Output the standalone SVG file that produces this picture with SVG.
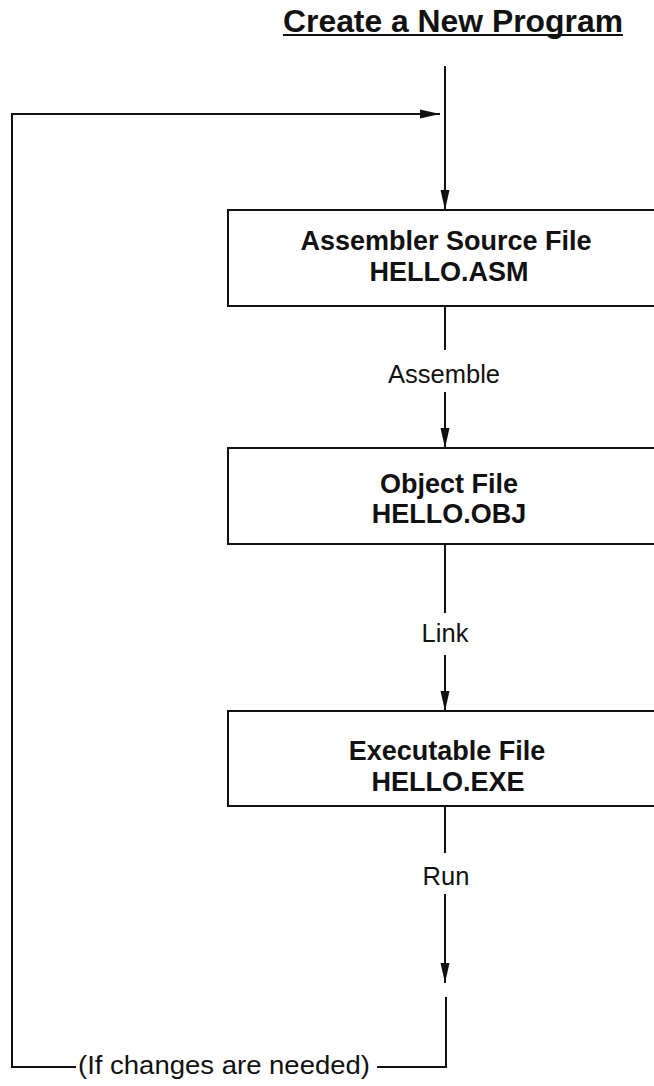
<svg xmlns="http://www.w3.org/2000/svg" width="654" height="1086" viewBox="0 0 654 1086">
  <style>
    .box { fill: #ffffff; stroke: #111111; stroke-width: 2; }
    .ln { fill: none; stroke: #111111; stroke-width: 2; }
    .title { font-family: "Liberation Sans", Arial, sans-serif; font-weight: bold; font-size: 31px; fill: #111111; }
    .node { font-family: "Liberation Sans", Arial, sans-serif; font-weight: bold; font-size: 27px; fill: #111111; text-anchor: middle; }
    .lbl { font-family: "Liberation Sans", Arial, sans-serif; font-size: 25.5px; fill: #111111; text-anchor: middle; }
  </style>
  <defs>
    <marker id="arrow" viewBox="0 0 20 10" refX="20" refY="5" markerWidth="20" markerHeight="10" markerUnits="userSpaceOnUse" orient="auto">
      <path d="M0,0.5 L20,5 L0,9.5 Z" fill="#111111"/>
    </marker>
  </defs>

  <rect width="654" height="1086" fill="#ffffff"/>

  <g id="title">
    <text class="title" x="283" y="32" textLength="340" lengthAdjust="spacingAndGlyphs">Create a New Program</text>
    <line class="ln" x1="283" y1="35" x2="623" y2="35"/>
  </g>

  <g id="connectors">
    <!-- entry into the source file -->
    <line class="ln" x1="445" y1="66" x2="445" y2="210" marker-end="url(#arrow)"/>
    <!-- assemble -->
    <line class="ln" x1="445" y1="306" x2="445" y2="350"/>
    <line class="ln" x1="445" y1="392" x2="445" y2="448" marker-end="url(#arrow)"/>
    <!-- link -->
    <line class="ln" x1="445" y1="544" x2="445" y2="613"/>
    <line class="ln" x1="445" y1="655" x2="445" y2="711" marker-end="url(#arrow)"/>
    <!-- run -->
    <line class="ln" x1="445" y1="806" x2="445" y2="853"/>
    <line class="ln" x1="445" y1="894" x2="445" y2="983" marker-end="url(#arrow)"/>
    <!-- feedback loop back to the top -->
    <polyline class="ln" points="446,997 446,1067 377,1067"/>
    <polyline class="ln" points="76,1067 12,1067 12,114 440,114" marker-end="url(#arrow)"/>
  </g>

  <g id="label-assemble">
    <text class="lbl" x="444" y="383">Assemble</text>
  </g>
  <g id="label-link">
    <text class="lbl" x="445" y="642">Link</text>
  </g>
  <g id="label-run">
    <text class="lbl" x="446" y="885">Run</text>
  </g>
  <g id="label-loop">
    <text class="lbl" x="224" y="1074" textLength="292" lengthAdjust="spacingAndGlyphs">(If changes are needed)</text>
  </g>

  <g id="node-source">
    <rect class="box" x="228" y="210" width="440" height="96"/>
    <text class="node" x="446" y="250">Assembler Source File</text>
    <text class="node" x="449" y="281">HELLO.ASM</text>
  </g>

  <g id="node-object">
    <rect class="box" x="228" y="448" width="440" height="96"/>
    <text class="node" x="449" y="493">Object File</text>
    <text class="node" x="449" y="523">HELLO.OBJ</text>
  </g>

  <g id="node-exe">
    <rect class="box" x="228" y="711" width="440" height="95"/>
    <text class="node" x="447" y="760">Executable File</text>
    <text class="node" x="448" y="791">HELLO.EXE</text>
  </g>
</svg>
